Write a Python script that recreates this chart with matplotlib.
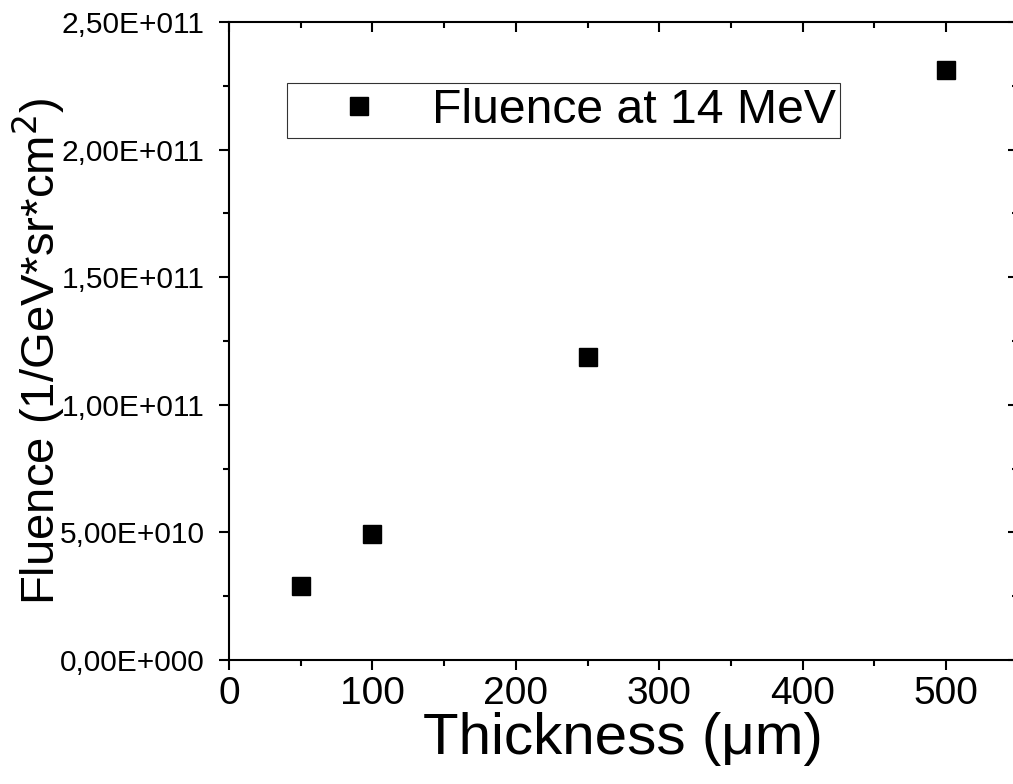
import numpy as np
import matplotlib
matplotlib.use("Agg")
import matplotlib.pyplot as plt
from matplotlib.ticker import MultipleLocator, FuncFormatter

# ---------------- DATA ----------------
thickness = [50, 100, 250, 500]                 # um
fluence = [2.9e10, 4.94e10, 1.187e11, 2.312e11]  # 1/GeV*sr*cm^2
series_label = "Fluence at 14 MeV"
# --------------------------------------

plt.rcParams['font.family'] = ['Liberation Sans', 'DejaVu Sans']

def sci_comma(v, pos):
    if v == 0:
        return "0,00E+000"
    exp = int(np.floor(np.log10(abs(v))))
    mant = v / 10**exp
    return f"{mant:.2f}".replace(".", ",") + f"E+{exp:03d}"

fig = plt.figure(figsize=(10.13, 7.84), dpi=100)
ax = fig.add_axes([229/1013, 124/784, 788.7/1013, 638/784])

ax.plot(thickness, fluence, linestyle="none", marker="s", markersize=13,
        color="black", label=series_label)

ax.set_xlim(0, 550)
ax.set_ylim(0, 2.5e11)
ax.xaxis.set_major_locator(MultipleLocator(100))
ax.xaxis.set_minor_locator(MultipleLocator(50))
ax.yaxis.set_major_locator(MultipleLocator(5e10))
ax.yaxis.set_minor_locator(MultipleLocator(2.5e10))
ax.yaxis.set_major_formatter(FuncFormatter(sci_comma))

for s in ax.spines.values():
    s.set_linewidth(1.5)

ax.tick_params(which="both", top=True, right=True, width=1.5)
ax.tick_params(which="major", length=7.5)
ax.tick_params(which="minor", length=4)
ax.tick_params(axis="x", which="both", direction="out", labelsize=28, pad=4)
ax.tick_params(axis="y", which="both", direction="out", labelsize=21.5, pad=10)
# top and right ticks point inward
for t in ax.xaxis.get_major_ticks() + ax.xaxis.get_minor_ticks():
    t.tick2line.set_marker(3)
for t in ax.yaxis.get_major_ticks() + ax.yaxis.get_minor_ticks():
    t.tick2line.set_marker(0)

ax.set_xlabel("Thickness (\u03bcm)", fontsize=42, labelpad=0)
ax.set_ylabel("Fluence (1/GeV*sr*cm$^2$)", fontsize=34)
ax.yaxis.set_label_coords(-0.205, 0.484)

leg = ax.legend(loc="upper left", bbox_to_anchor=(0.0735, 0.904), fontsize=34.7,
                frameon=True, fancybox=False, edgecolor="black",
                borderaxespad=0, borderpad=0.1, handlelength=2.8,
                handletextpad=0.1, markerscale=1.0)
leg.get_frame().set_linewidth(0.8)

plt.savefig("out.png", dpi=100)
